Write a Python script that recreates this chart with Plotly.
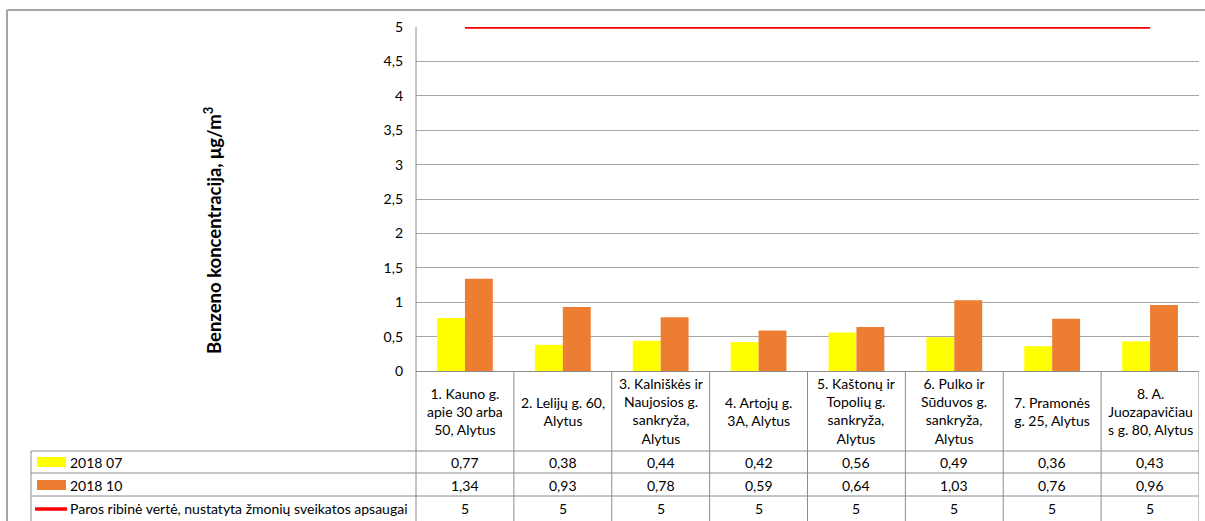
import plotly.graph_objects as go

categories = [
    "1. Kauno g.<br>apie 30 arba<br>50, Alytus",
    "2. Lelijų g. 60,<br>Alytus",
    "3. Kalniškės ir<br>Naujosios g.<br>sankryža,<br>Alytus",
    "4. Artojų g.<br>3A, Alytus",
    "5. Kaštonų ir<br>Topolių g.<br>sankryža,<br>Alytus",
    "6. Pulko ir<br>Sūduvos g.<br>sankryža,<br>Alytus",
    "7. Pramonės<br>g. 25, Alytus",
    "8. A.<br>Juozapavičiau<br>s g. 80, Alytus",
]
series_names = ["2018 07", "2018 10", "Paros ribinė vertė, nustatyta žmonių sveikatos apsaugai"]
values_2018_07 = [0.77, 0.38, 0.44, 0.42, 0.56, 0.49, 0.36, 0.43]
values_2018_10 = [1.34, 0.93, 0.78, 0.59, 0.64, 1.03, 0.76, 0.96]
limit_values = [5, 5, 5, 5, 5, 5, 5, 5]
y_ticks = [0, 0.5, 1, 1.5, 2, 2.5, 3, 3.5, 4, 4.5, 5]
y_title = "Benzeno koncentracija, μg/m<sup>3</sup>"

W, H = 1205, 521
L, R, T, B = 416, 1199, 27, 371  # plot area pixels
FONT = "Lato"
FS = 14
GRID = "#a6a6a6"
TBL = "#8c8c8c"

def px(x):
    return (x - L) / (R - L)

def py(y):
    return (B - y) / (B - T)

xs = list(range(len(categories)))

fig = go.Figure()
fig.add_trace(go.Bar(x=xs, y=values_2018_07, name=series_names[0], marker_color="#ffff00", marker_line_width=0))
fig.add_trace(go.Bar(x=xs, y=values_2018_10, name=series_names[1], marker_color="#ed7d31", marker_line_width=0))
fig.add_trace(go.Scatter(x=xs, y=limit_values, name=series_names[2], mode="lines",
                         line=dict(color="#ff0000", width=3.5)))

shapes = []
annotations = []

def hline(y, x0, x1, color=TBL, w=1):
    shapes.append(dict(type="line", xref="paper", yref="paper", x0=px(x0), x1=px(x1),
                       y0=py(y), y1=py(y), line=dict(color=color, width=w)))

def vline_paper(x, y0, y1, color=TBL, w=1):
    shapes.append(dict(type="line", xref="paper", yref="paper", x0=px(x), x1=px(x),
                       y0=py(y0), y1=py(y1), line=dict(color=color, width=w)))

# outer frame
hline(10, 7, W + 5, color="#a6a6a6", w=2)
vline_paper(7, 10, H + 5, color="#a6a6a6", w=2)

# table rows
row_lines = [451, 473, 496]
for yy in row_lines:
    hline(yy, 31, R)
vline_paper(31, 451, H + 5)
vline_paper(L, T, H + 5)
# category dividers
for i in range(len(categories)):
    shapes.append(dict(type="line", xref="x", yref="paper", x0=i + 0.5, x1=i + 0.5,
                       y0=py(B), y1=py(H + 5), line=dict(color=TBL, width=1)))

# legend keys
shapes.append(dict(type="rect", xref="paper", yref="paper", x0=px(37), x1=px(66), y0=py(457), y1=py(467),
                   fillcolor="#ffff00", line_width=0))
shapes.append(dict(type="rect", xref="paper", yref="paper", x0=px(37), x1=px(66), y0=py(480), y1=py(490),
                   fillcolor="#ed7d31", line_width=0))
shapes.append(dict(type="line", xref="paper", yref="paper", x0=px(35), x1=px(67), y0=py(509), y1=py(509),
                   line=dict(color="#ff0000", width=3.5)))

row_centers = [462, 485, 508.5]
for name, yc in zip(series_names, row_centers):
    annotations.append(dict(text=name, xref="paper", yref="paper", x=px(68), y=py(yc),
                            xanchor="left", yanchor="middle", showarrow=False,
                            font=dict(family=FONT, size=FS, color="#000000")))

def fmt(v):
    s = str(int(v)) if v == int(v) else "%.2f" % v
    return s.replace(".", ",")

for vals, yc in zip([values_2018_07, values_2018_10, limit_values], row_centers):
    for i, v in enumerate(vals):
        annotations.append(dict(text=fmt(v), xref="x", yref="paper", x=i, y=py(yc),
                                xanchor="center", yanchor="middle", showarrow=False,
                                font=dict(family=FONT, size=FS, color="#000000")))

for i, c in enumerate(categories):
    annotations.append(dict(text=c, xref="x", yref="paper", x=i, y=py(411),
                            xanchor="center", yanchor="middle", showarrow=False,
                            font=dict(family=FONT, size=FS, color="#000000")))

annotations.append(dict(text="<b>" + y_title + "</b>", xref="paper", yref="paper",
                        x=px(213), y=py(231), textangle=-90, showarrow=False,
                        xanchor="center", yanchor="middle",
                        font=dict(family=FONT, size=18.5, color="#000000")))

fig.update_layout(
    width=W, height=H,
    margin=dict(l=L, r=W - R, t=T, b=H - B, pad=0),
    paper_bgcolor="white", plot_bgcolor="white",
    barmode="group", bargap=0.43, bargroupgap=0,
    showlegend=False,
    separators=", ",
    font=dict(family=FONT, size=FS, color="#000000"),
    shapes=shapes, annotations=annotations,
)
fig.update_xaxes(range=[-0.5, len(categories) - 0.5], showticklabels=False, showgrid=False,
                 zeroline=False, showline=False, ticks="")
fig.update_yaxes(range=[0, 5], tickvals=y_ticks, showgrid=True, gridcolor=GRID, gridwidth=1,
                 zeroline=True, zerolinecolor=TBL, zerolinewidth=1, showline=False,
                 ticks="", ticklabelstandoff=12, tickfont=dict(family=FONT, size=FS, color="#000000"))

fig.write_html("out.html", config={"displayModeBar": False},
               post_script="document.body.style.margin='0';document.body.style.overflow='hidden';")
